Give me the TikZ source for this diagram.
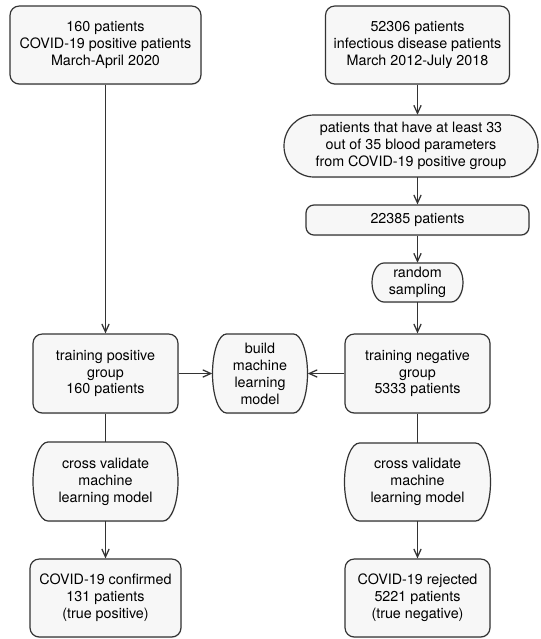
\documentclass[tikz,border=0pt]{standalone}
\usepackage{fontspec}
\setmainfont{TeX Gyre Heros}
\usetikzlibrary{arrows.meta,shadows}

\def\d{0.0265}
% pill: center x, center y, width, height, side bulge (all px), name, text
\def\pill#1#2#3#4#5#6#7{
	\path[pillshape] ({(#1-#3/2+#5)*\d},{-(#2-#4/2)*\d})
		-- ({(#1+#3/2-#5)*\d},{-(#2-#4/2)*\d})
		arc[start angle=90,end angle=-90,x radius={#5*\d},y radius={#4/2*\d}]
		-- ({(#1-#3/2+#5)*\d},{-(#2+#4/2)*\d})
		arc[start angle=270,end angle=90,x radius={#5*\d},y radius={#4/2*\d}]
		-- cycle;
	\node[txt,boxsize={#3}{#4}] (#6) at ({#1*\d},{-#2*\d}) {#7};
}

\begin{document}
\begin{tikzpicture}[>={Straight Barb[length=6pt,width=5.5pt]},
	font=\fontsize{10.8}{12.8}\selectfont,
	boxsize/.style 2 args={minimum width={#1*\d cm},minimum height={#2*\d cm}},
	txt/.style={align=center,inner sep=0pt},
	box/.style={txt,draw=black!80,fill=black!3,line width=0.9pt,rounded corners=7pt,
		drop shadow={opacity=0.18,shadow xshift=0.5pt,shadow yshift=-0.8pt}},
	pillshape/.style={draw=black!80,fill=black!3,line width=0.9pt,
		drop shadow={opacity=0.18,shadow xshift=0.5pt,shadow yshift=-0.8pt}},
	link/.style={draw=black!80,line width=0.95pt}]

\useasboundingbox (0,0) rectangle ({540*\d},{-639*\d});

% left column
\node[box,boxsize={191}{78}] (pos) at ({105.5*\d},{-45*\d})
	{160 patients\\COVID-19 positive patients\\March-April 2020};
\node[box,boxsize={145}{79}] (tpos) at ({105.5*\d},{-373.5*\d})
	{training positive\\group\\160 patients};
\pill{105.5}{481.5}{145}{79}{15}{cvpos}{cross validate\\machine\\learning model}
\node[box,boxsize={151}{78}] (conf) at ({105.5*\d},{-598*\d})
	{COVID-19 confirmed\\131 patients\\(true positive)};

% middle
\pill{260}{373.5}{95}{79}{14}{build}{build\\machine\\learning\\model}

% right column
\node[box,boxsize={184}{78}] (inf) at ({417.5*\d},{-45*\d})
	{52306 patients\\infectious disease patients\\March 2012-July 2018};
\pill{411}{146}{254}{62}{30}{filt}{patients that have at least 33\\out of 35 blood parameters\\from COVID-19 positive group}
\node[box,rounded corners=6pt,boxsize={223}{30}] (sel) at ({417.5*\d},{-220*\d})
	{22385 patients};
\pill{417.5}{282.5}{91}{39}{12}{rand}{random\\sampling}
\node[box,boxsize={145}{79}] (tneg) at ({417.5*\d},{-373.5*\d})
	{training negative\\group\\5333 patients};
\pill{417.5}{482}{146}{78}{15}{cvneg}{cross validate\\machine\\learning model}
\node[box,boxsize={145}{78}] (rej) at ({417.5*\d},{-598*\d})
	{COVID-19 rejected\\5221 patients\\(true negative)};

% connectors
\draw[link,->] (pos) -- (tpos);
\draw[link] (tpos) -- (cvpos);
\draw[link,->] (cvpos) -- (conf);

\draw[link,->] (inf.south) -- (inf.south |- filt.north);
\draw[link,->] (filt.south -| sel) -- (sel.north);
\draw[link,->] (sel.south -| rand) -- (rand.north);
\draw[link,->] (rand) -- (tneg);
\draw[link] (tneg) -- (cvneg);
\draw[link,->] (cvneg) -- (rej);

\draw[link,->] (tpos) -- (build);
\draw[link,->] (tneg) -- (build);

\end{tikzpicture}
\end{document}
